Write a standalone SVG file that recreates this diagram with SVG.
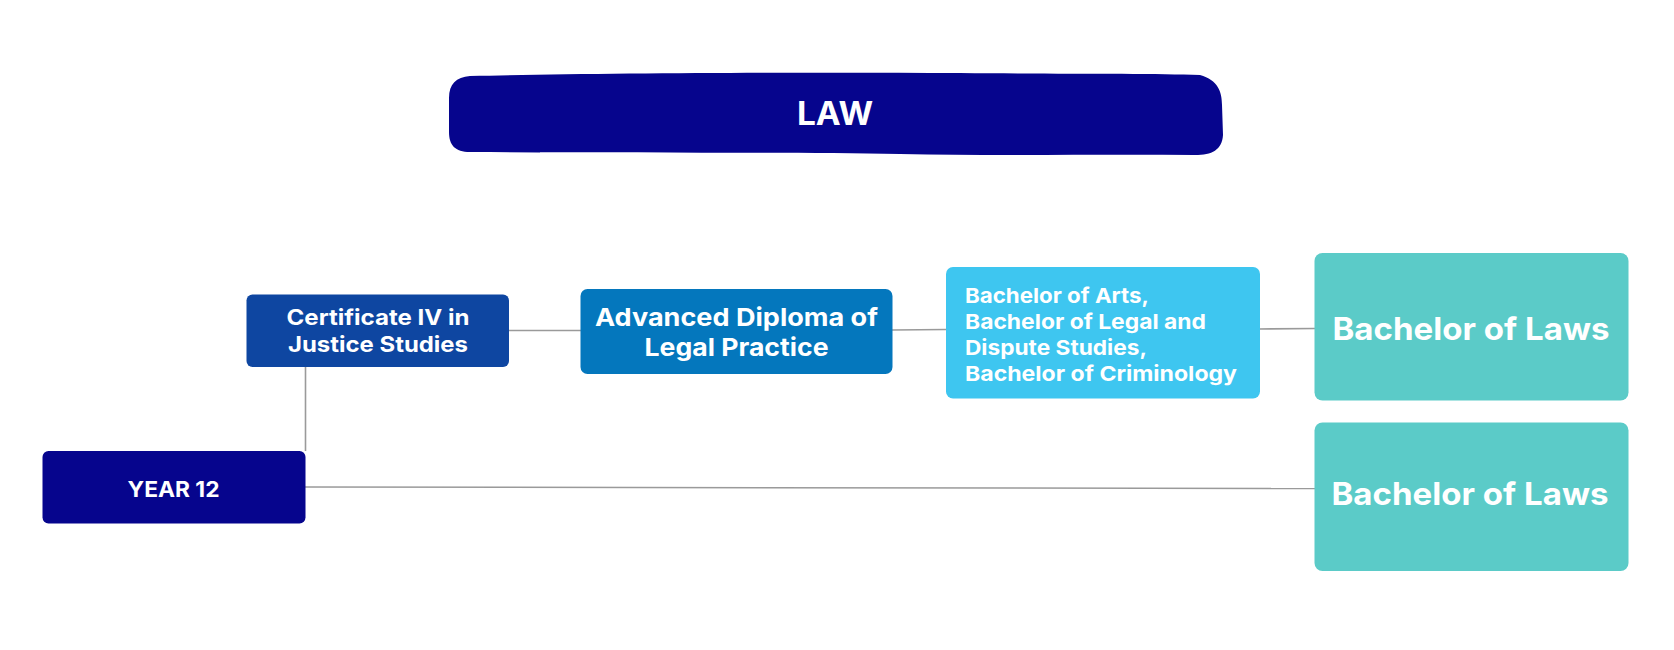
<svg xmlns="http://www.w3.org/2000/svg" width="1674" height="650" viewBox="0 0 1674 650">
<style>
text{font-family:Inter,"Open Sans","Liberation Sans",sans-serif;font-weight:700;fill:#ffffff}
.c{text-anchor:middle}
.conn{stroke:#9a9a9a;stroke-width:1.6;fill:none}
</style>
<rect width="1674" height="650" fill="#ffffff"/>
<g id="connectors">
<line class="conn" x1="509" y1="330.5" x2="581" y2="330.5"/>
<line class="conn" x1="892" y1="330" x2="946" y2="329.5"/>
<line class="conn" x1="1259" y1="329" x2="1315" y2="328.5"/>
<line class="conn" x1="305.5" y1="367" x2="305.5" y2="451"/>
<line class="conn" x1="305" y1="487" x2="1315" y2="488.5"/>
</g>
<g id="law">
<path d="M470 76 C600 73 800 72 960 73 C1060 74 1150 73 1200 75 C1218 80 1222 92 1222 105 L1223 135 C1222 150 1212 155 1195 155 C1100 154 1000 156 900 154 C780 152 620 153 470 152 C455 152 449 145 449 132 L449 98 C449 84 456 77 470 76 Z" fill="#06058d"/>
<text class="c" x="835" y="125" font-size="32" textLength="76" lengthAdjust="spacingAndGlyphs">LAW</text>
</g>
<g id="cert">
<rect x="246.5" y="294.5" width="262.5" height="72.5" rx="6" fill="#0e46a1"/>
<text class="c" x="378" y="325" font-size="21.5" textLength="183" lengthAdjust="spacingAndGlyphs">Certificate IV in</text>
<text class="c" x="378" y="351.5" font-size="21.5" textLength="180" lengthAdjust="spacingAndGlyphs">Justice Studies</text>
</g>
<g id="adv">
<rect x="580.5" y="289" width="312" height="85" rx="7" fill="#0477bd"/>
<text class="c" x="736.5" y="326" font-size="24.5" textLength="283" lengthAdjust="spacingAndGlyphs">Advanced Diploma of</text>
<text class="c" x="736.5" y="356" font-size="24.5" textLength="184" lengthAdjust="spacingAndGlyphs">Legal Practice</text>
</g>
<g id="arts">
<rect x="946" y="267" width="314" height="131.5" rx="7" fill="#3ec6f0"/>
<text x="965" y="302.5" font-size="20.5" textLength="184" lengthAdjust="spacingAndGlyphs">Bachelor of Arts,</text>
<text x="965" y="328.5" font-size="20.5" textLength="241" lengthAdjust="spacingAndGlyphs">Bachelor of Legal and</text>
<text x="965" y="354.5" font-size="20.5" textLength="182" lengthAdjust="spacingAndGlyphs">Dispute Studies,</text>
<text x="965" y="380.5" font-size="20.5" textLength="272" lengthAdjust="spacingAndGlyphs">Bachelor of Criminology</text>
</g>
<g id="laws1">
<rect x="1314.5" y="253" width="314" height="147.5" rx="8" fill="#5bcbc8"/>
<text class="c" x="1471" y="339.5" font-size="31.5" textLength="277" lengthAdjust="spacingAndGlyphs">Bachelor of Laws</text>
</g>
<g id="laws2">
<rect x="1314.5" y="422.5" width="314" height="148.5" rx="8" fill="#5bcbc8"/>
<text class="c" x="1470" y="505" font-size="31.5" textLength="277" lengthAdjust="spacingAndGlyphs">Bachelor of Laws</text>
</g>
<g id="year12">
<rect x="42.5" y="451" width="263" height="72.5" rx="6" fill="#06058d"/>
<text class="c" x="173.5" y="497" font-size="21.5" textLength="92" lengthAdjust="spacingAndGlyphs">YEAR 12</text>
</g>
</svg>
